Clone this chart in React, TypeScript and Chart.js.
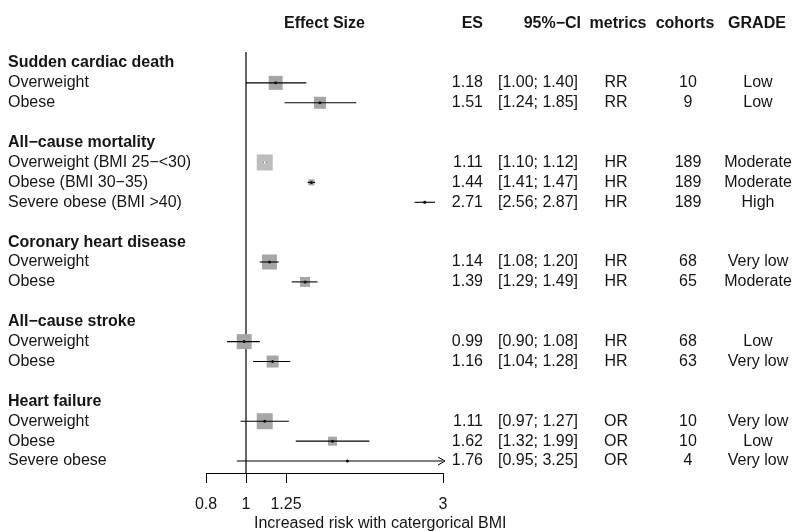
import React, { useEffect, useRef } from 'react';
import { Chart, registerables } from 'chart.js';

Chart.register(...registerables);

// ---------- data ----------
const groupTitles = [
  'Sudden cardiac death',
  'All\u2212cause mortality',
  'Coronary heart disease',
  'All\u2212cause stroke',
  'Heart failure',
];
const groupSizes = [2, 3, 2, 2, 3];

const studyLabels = [
  'Overweight',
  'Obese',
  'Overweight (BMI 25\u2212<30)',
  'Obese (BMI 30\u221235)',
  'Severe obese (BMI >40)',
  'Overweight',
  'Obese',
  'Overweight',
  'Obese',
  'Overweight',
  'Obese',
  'Severe obese',
];
const esValues = [1.18, 1.51, 1.11, 1.44, 2.71, 1.14, 1.39, 0.99, 1.16, 1.11, 1.62, 1.76];
const ciLower = [1.0, 1.24, 1.1, 1.41, 2.56, 1.08, 1.29, 0.9, 1.04, 0.97, 1.32, 0.95];
const ciUpper = [1.4, 1.85, 1.12, 1.47, 2.87, 1.2, 1.49, 1.08, 1.28, 1.27, 1.99, 3.25];
const metrics = ['RR', 'RR', 'HR', 'HR', 'HR', 'HR', 'HR', 'HR', 'HR', 'OR', 'OR', 'OR'];
const cohorts = [10, 9, 189, 189, 189, 68, 65, 68, 63, 10, 10, 4];
const grades = ['Low', 'Low', 'Moderate', 'Moderate', 'High', 'Very low', 'Moderate', 'Low', 'Very low', 'Very low', 'Low', 'Very low'];
// relative study weight (drives square size)
const squareWeights = [14, 12, 16, 6, 3, 15, 10, 15, 12, 16, 9, 2];

const xTicks = [0.8, 1, 1.25, 3];
const xMin = 0.8;
const xMax = 3;
const refValue = 1;
const axisTitle = 'Increased risk with catergorical BMI';
const headers = ['Effect Size', 'ES', '95%\u2212CI', 'metrics', 'cohorts', 'GRADE'];

// ---------- row layout (in row units) ----------
const titleRows: number[] = [];
const studyRows: number[] = [];
(() => {
  let r = 0;
  groupSizes.forEach((n) => {
    titleRows.push(r);
    r += 1;
    for (let i = 0; i < n; i++) {
      studyRows.push(r);
      r += 1;
    }
    r += 1;
  });
})();
const lastRow = studyRows[studyRows.length - 1];

const FONT = '"Liberation Sans", Arial, Helvetica, sans-serif';
const TEXT = '#151515';

const textPlugin = {
  id: 'forestText',
  afterDatasetsDraw(chart: any) {
    const { ctx, scales } = chart;
    const xs = scales.x;
    const ys = scales.y;
    ctx.save();
    // arrows for CIs beyond axis
    ctx.strokeStyle = '#000';
    ctx.lineWidth = 1;
    esValues.forEach((_, i) => {
      if (ciUpper[i] > xMax) {
        const px = xs.getPixelForValue(xMax) + 2;
        const py = ys.getPixelForValue(studyRows[i]);
        ctx.beginPath();
        ctx.moveTo(px - 7, py - 4);
        ctx.lineTo(px, py);
        ctx.lineTo(px - 7, py + 4);
        ctx.stroke();
      }
    });
    ctx.restore();
  },
  afterDraw(chart: any) {
    const { ctx, scales, chartArea } = chart;
    const ys = scales.y;
    ctx.save();
    ctx.fillStyle = TEXT;
    ctx.textBaseline = 'middle';

    const col = { label: 8, es: 483, ci: 578, metric: 616, cohort: 688, grade: 758 };
    const headY = ys.getPixelForValue(-2);
    ctx.font = `bold 16px ${FONT}`;
    ctx.textAlign = 'center';
    ctx.fillText(headers[0], (chartArea.left + chartArea.right) / 2, headY);
    ctx.textAlign = 'right';
    ctx.fillText(headers[1], col.es, headY);
    ctx.fillText(headers[2], col.ci + 3, headY);
    ctx.textAlign = 'center';
    ctx.fillText(headers[3], 618, headY);
    ctx.fillText(headers[4], 685, headY);
    ctx.fillText(headers[5], 757, headY);

    ctx.textAlign = 'left';
    groupTitles.forEach((t, g) => {
      ctx.fillText(t, col.label, ys.getPixelForValue(titleRows[g]));
    });

    ctx.font = `16px ${FONT}`;
    studyLabels.forEach((t, i) => {
      const y = ys.getPixelForValue(studyRows[i]);
      ctx.textAlign = 'left';
      ctx.fillText(t, col.label, y);
      ctx.textAlign = 'right';
      ctx.fillText(esValues[i].toFixed(2), col.es, y);
      ctx.fillText(`[${ciLower[i].toFixed(2)}; ${ciUpper[i].toFixed(2)}]`, col.ci, y);
      ctx.textAlign = 'center';
      ctx.fillText(metrics[i], col.metric, y);
      ctx.fillText(String(cohorts[i]), col.cohort, y);
      ctx.fillText(grades[i], col.grade, y);
    });

    // x-axis title (offset to the right as in the original figure)
    ctx.textAlign = 'left';
    ctx.fillText(axisTitle, 254, chartArea.bottom + 51);
    ctx.restore();
  },
};

export default function App() {
  const ref = useRef<HTMLCanvasElement | null>(null);

  useEffect(() => {
    if (!ref.current) return;
    const ciSets = esValues.map((_, i) => ({
      type: 'line' as const,
      data: [
        { x: ciLower[i], y: studyRows[i] },
        { x: ciUpper[i], y: studyRows[i] },
      ],
      showLine: true,
      borderColor: '#000',
      borderWidth: 1.1,
      pointRadius: 0,
      order: 2,
    }));

    const chart = new Chart(ref.current, {
      type: 'scatter',
      data: {
        datasets: [
          {
            type: 'line' as const,
            data: [
              { x: refValue, y: -0.55 },
              { x: refValue, y: lastRow + 0.6 },
            ],
            showLine: true,
            borderColor: '#000',
            borderWidth: 1.2,
            pointRadius: 0,
            clip: false as any,
            order: 4,
          },
          {
            data: esValues.map((v, i) => ({ x: v, y: studyRows[i] })),
            pointStyle: 'rect',
            pointRadius: squareWeights.map((w) => w / Math.SQRT2),
            backgroundColor: squareWeights.map((_, i) => (i === 2 ? '#bdbdbd' : '#a6a6a6')),
            borderWidth: 0,
            order: 3,
          },
          ...ciSets,
          {
            data: esValues.map((v, i) => ({ x: v, y: studyRows[i] })),
            pointStyle: 'circle',
            pointRadius: esValues.map((_, i) => (i === 2 ? 1.2 : 1.5)),
            backgroundColor: esValues.map((_, i) => (i === 2 ? '#f2f2f2' : '#111')),
            borderWidth: 0,
            order: 1,
          },
        ] as any,
      },
      options: {
        animation: false,
        responsive: true,
        maintainAspectRatio: false,
        events: [],
        layout: { padding: { left: 206, right: 352, top: 52, bottom: 18.8 } },
        plugins: { legend: { display: false }, tooltip: { enabled: false } },
        scales: {
          x: {
            type: 'logarithmic',
            min: xMin,
            max: xMax,
            position: 'bottom',
            afterBuildTicks: (axis: any) => {
              axis.ticks = xTicks.map((v) => ({ value: v }));
            },
            grid: { drawOnChartArea: false, drawTicks: true, tickLength: 10, color: '#000', lineWidth: 1 },
            border: { display: true, color: '#000', width: 1 },
            ticks: {
              autoSkip: false,
              maxRotation: 0,
              padding: 12,
              color: TEXT,
              font: { family: FONT, size: 16 },
              callback: (v: any) => String(v),
            },
            title: { display: false },
          },
          y: {
            type: 'linear',
            reverse: true,
            min: -0.55,
            max: lastRow + 0.6,
            display: false,
          },
        },
      } as any,
      plugins: [textPlugin],
    });
    return () => chart.destroy();
  }, []);

  return (
    <div style={{ position: 'absolute', left: 0, top: 0, width: 795, height: 531, overflow: 'hidden', background: '#fff' }}>
      <div style={{ position: 'relative', width: 795, height: 545 }}>
        <canvas ref={ref} />
      </div>
    </div>
  );
}
